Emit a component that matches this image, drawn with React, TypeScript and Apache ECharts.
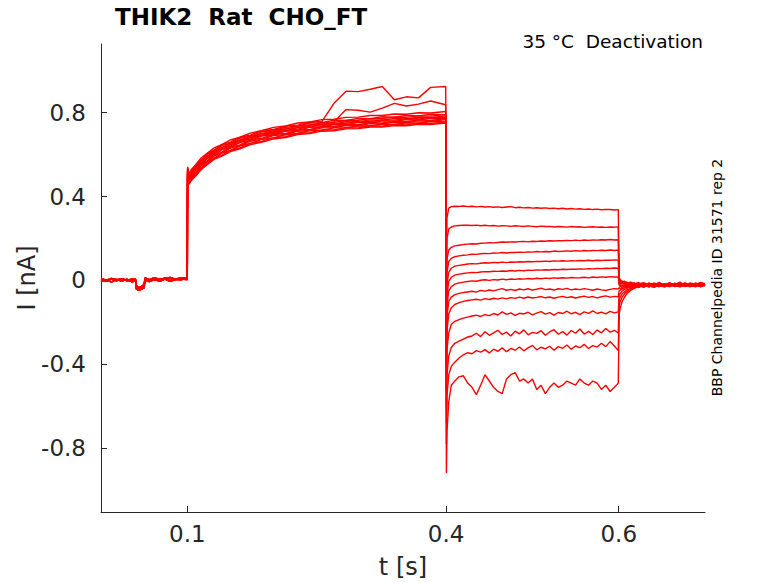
import React, { useEffect, useRef } from 'react';
import * as echarts from 'echarts';

// time grids (s) for the four protocol phases
const T_BASE = [0, 0.006, 0.012, 0.018, 0.024, 0.03, 0.036, 0.04, 0.041, 0.044, 0.047, 0.05, 0.051, 0.056, 0.062, 0.068, 0.074, 0.08, 0.086, 0.092, 0.0995];
const T_ACT = [0.1, 0.1004, 0.102, 0.105, 0.11, 0.116, 0.123, 0.131, 0.14, 0.15, 0.161, 0.173, 0.186, 0.2, 0.214, 0.228, 0.242, 0.256, 0.27, 0.284, 0.298, 0.312, 0.326, 0.34, 0.354, 0.368, 0.382, 0.3995];
const T_DEACT = [0.4003, 0.401, 0.403, 0.406, 0.41, 0.415, 0.42, 0.425, 0.43, 0.435, 0.44, 0.445, 0.45, 0.455, 0.46, 0.465, 0.47, 0.475, 0.48, 0.485, 0.49, 0.495, 0.5, 0.505, 0.51, 0.515, 0.52, 0.525, 0.53, 0.535, 0.54, 0.545, 0.55, 0.555, 0.56, 0.565, 0.57, 0.575, 0.58, 0.585, 0.59, 0.595, 0.5995];
const T_TAIL = [0.6005, 0.602, 0.604, 0.607, 0.61, 0.614, 0.618, 0.623, 0.629, 0.635, 0.641, 0.647, 0.653, 0.659, 0.665, 0.671, 0.677, 0.683, 0.689, 0.695, 0.7];

// holding current before the step (nA)
const BASELINES = [
  [0.004, -0.004, 0.006, -0.002, 0.008, 0.001, -0.005, 0.002, -0.030, -0.040, -0.034, -0.028, 0.006, -0.002, 0.008, 0.002, 0.010, -0.001, 0.007, 0.003, 0.009],
  [-0.006, 0.004, -0.008, 0.005, -0.004, 0.006, -0.007, -0.002, -0.042, -0.048, -0.041, -0.036, 0.002, -0.006, 0.004, -0.005, 0.006, -0.004, 0.003, 0.007, 0.004],
  [0.009, 0.001, 0.010, 0.003, 0.007, -0.002, 0.008, 0.006, -0.025, -0.033, -0.028, -0.020, 0.012, 0.004, 0.013, 0.005, 0.011, 0.014, 0.006, 0.012, 0.010],
];

// activation step, one row per sweep (nA)
const ACTIVATION = [
  [0.006, 0.535, 0.497, 0.518, 0.547, 0.569, 0.601, 0.617, 0.643, 0.655, 0.678, 0.688, 0.709, 0.715, 0.731, 0.736, 0.751, 0.753, 0.764, 0.763, 0.773, 0.772, 0.781, 0.779, 0.787, 0.785, 0.793, 0.791],
  [0.002, 0.512, 0.468, 0.492, 0.512, 0.545, 0.566, 0.593, 0.607, 0.631, 0.642, 0.664, 0.673, 0.691, 0.696, 0.712, 0.715, 0.728, 0.729, 0.739, 0.738, 0.748, 0.746, 0.755, 0.752, 0.761, 0.758, 0.767],
  [0.007, 0.524, 0.489, 0.503, 0.533, 0.555, 0.585, 0.603, 0.628, 0.641, 0.662, 0.674, 0.693, 0.701, 0.716, 0.722, 0.735, 0.738, 0.748, 0.749, 0.758, 0.758, 0.766, 0.765, 0.772, 0.771, 0.778, 0.777],
  [0.003, 0.505, 0.462, 0.484, 0.503, 0.534, 0.556, 0.583, 0.597, 0.621, 0.632, 0.654, 0.663, 0.681, 0.686, 0.702, 0.705, 0.718, 0.718, 0.729, 0.728, 0.738, 0.736, 0.745, 0.742, 0.751, 0.748, 0.757],
  [0.005, 0.528, 0.494, 0.509, 0.540, 0.561, 0.593, 0.609, 0.635, 0.647, 0.670, 0.680, 0.701, 0.707, 0.724, 0.728, 0.743, 0.745, 0.756, 0.815, 0.812, 0.803, 0.822, 0.845, 0.832, 0.841, 0.856, 0.838],
  [0.004, 0.516, 0.476, 0.497, 0.518, 0.549, 0.571, 0.598, 0.612, 0.636, 0.647, 0.669, 0.678, 0.696, 0.701, 0.717, 0.720, 0.733, 0.733, 0.744, 0.743, 0.753, 0.751, 0.760, 0.757, 0.766, 0.763, 0.772],
  [0.008, 0.538, 0.503, 0.522, 0.553, 0.574, 0.606, 0.622, 0.648, 0.660, 0.683, 0.693, 0.714, 0.720, 0.736, 0.741, 0.756, 0.758, 0.845, 0.903, 0.901, 0.912, 0.925, 0.862, 0.876, 0.871, 0.921, 0.925],
  [0.001, 0.498, 0.458, 0.478, 0.499, 0.528, 0.552, 0.577, 0.593, 0.615, 0.628, 0.648, 0.659, 0.675, 0.682, 0.696, 0.701, 0.712, 0.714, 0.723, 0.724, 0.732, 0.732, 0.739, 0.738, 0.745, 0.744, 0.751],
  [0.006, 0.530, 0.492, 0.517, 0.538, 0.569, 0.591, 0.617, 0.633, 0.655, 0.668, 0.688, 0.699, 0.715, 0.722, 0.736, 0.741, 0.752, 0.754, 0.763, 0.764, 0.772, 0.772, 0.779, 0.778, 0.785, 0.784, 0.791],
  [0.002, 0.508, 0.467, 0.482, 0.512, 0.534, 0.565, 0.582, 0.607, 0.620, 0.642, 0.653, 0.673, 0.680, 0.696, 0.701, 0.715, 0.717, 0.728, 0.728, 0.738, 0.737, 0.746, 0.744, 0.752, 0.750, 0.758, 0.756],
  [0.005, 0.522, 0.486, 0.511, 0.530, 0.563, 0.583, 0.611, 0.625, 0.649, 0.660, 0.682, 0.691, 0.709, 0.714, 0.730, 0.733, 0.746, 0.746, 0.757, 0.756, 0.766, 0.764, 0.773, 0.770, 0.779, 0.776, 0.785],
  [0.004, 0.518, 0.483, 0.498, 0.528, 0.549, 0.581, 0.597, 0.623, 0.635, 0.658, 0.668, 0.689, 0.695, 0.712, 0.716, 0.731, 0.732, 0.744, 0.743, 0.754, 0.752, 0.762, 0.759, 0.768, 0.765, 0.774, 0.771],
  [0.009, 0.542, 0.508, 0.531, 0.553, 0.584, 0.606, 0.632, 0.648, 0.670, 0.683, 0.703, 0.714, 0.730, 0.737, 0.751, 0.756, 0.767, 0.769, 0.778, 0.779, 0.787, 0.787, 0.794, 0.793, 0.800, 0.799, 0.806],
];

// deactivation (tail) step, one row per test potential (nA)
const DEACTIVATION = [
  [0.05, 0.30, 0.345, 0.352, 0.354, 0.353, 0.355, 0.352, 0.354, 0.351, 0.353, 0.350, 0.352, 0.349, 0.351, 0.348, 0.350, 0.352, 0.347, 0.349, 0.346, 0.348, 0.345, 0.347, 0.344, 0.346, 0.343, 0.345, 0.342, 0.344, 0.341, 0.343, 0.340, 0.342, 0.339, 0.341, 0.338, 0.340, 0.337, 0.339, 0.338, 0.336, 0.338],
  [-0.05, 0.20, 0.245, 0.255, 0.260, 0.262, 0.264, 0.263, 0.262, 0.264, 0.261, 0.263, 0.260, 0.262, 0.259, 0.261, 0.260, 0.258, 0.261, 0.259, 0.257, 0.260, 0.258, 0.256, 0.259, 0.257, 0.258, 0.255, 0.257, 0.256, 0.254, 0.257, 0.255, 0.256, 0.253, 0.255, 0.256, 0.254, 0.255, 0.253, 0.255, 0.254, 0.255],
  [-0.12, 0.10, 0.145, 0.158, 0.165, 0.168, 0.171, 0.173, 0.175, 0.174, 0.177, 0.178, 0.180, 0.179, 0.181, 0.183, 0.182, 0.184, 0.183, 0.185, 0.186, 0.184, 0.187, 0.186, 0.188, 0.187, 0.189, 0.188, 0.190, 0.189, 0.191, 0.190, 0.192, 0.190, 0.193, 0.191, 0.193, 0.192, 0.194, 0.193, 0.195, 0.193, 0.194],
  [-0.20, 0.04, 0.09, 0.105, 0.113, 0.117, 0.120, 0.122, 0.125, 0.124, 0.127, 0.129, 0.128, 0.131, 0.130, 0.133, 0.131, 0.134, 0.133, 0.135, 0.134, 0.136, 0.135, 0.138, 0.136, 0.138, 0.137, 0.140, 0.138, 0.139, 0.141, 0.139, 0.142, 0.140, 0.143, 0.141, 0.143, 0.142, 0.144, 0.143, 0.145, 0.143, 0.145],
  [-0.27, -0.02, 0.04, 0.058, 0.068, 0.072, 0.075, 0.078, 0.080, 0.079, 0.082, 0.084, 0.083, 0.086, 0.084, 0.087, 0.085, 0.088, 0.087, 0.089, 0.088, 0.090, 0.089, 0.091, 0.090, 0.092, 0.090, 0.093, 0.092, 0.094, 0.092, 0.094, 0.093, 0.095, 0.094, 0.096, 0.094, 0.096, 0.095, 0.097, 0.096, 0.098, 0.097],
  [-0.33, -0.07, -0.005, 0.015, 0.025, 0.030, 0.033, 0.036, 0.038, 0.037, 0.040, 0.042, 0.041, 0.044, 0.043, 0.045, 0.044, 0.047, 0.045, 0.048, 0.046, 0.049, 0.048, 0.050, 0.049, 0.051, 0.050, 0.052, 0.051, 0.053, 0.052, 0.054, 0.053, 0.055, 0.054, 0.056, 0.055, 0.057, 0.056, 0.058, 0.057, 0.059, 0.058],
  [-0.40, -0.12, -0.05, -0.03, -0.018, -0.012, -0.008, -0.005, -0.002, -0.004, 0.001, 0.003, 0.000, 0.004, 0.002, 0.006, 0.003, 0.007, 0.005, 0.008, 0.006, 0.009, 0.007, 0.010, 0.008, 0.011, 0.009, 0.012, 0.010, 0.013, 0.011, 0.014, 0.012, 0.013, 0.015, 0.012, 0.016, 0.014, 0.017, 0.015, 0.018, 0.016, 0.017],
  [-0.46, -0.17, -0.10, -0.08, -0.068, -0.062, -0.058, -0.055, -0.052, -0.056, -0.048, -0.051, -0.046, -0.050, -0.044, -0.039, -0.047, -0.043, -0.048, -0.041, -0.045, -0.040, -0.046, -0.042, -0.037, -0.044, -0.041, -0.046, -0.040, -0.043, -0.038, -0.045, -0.041, -0.044, -0.039, -0.043, -0.047, -0.041, -0.045, -0.048, -0.043, -0.039, -0.041],
  [-0.52, -0.24, -0.16, -0.13, -0.115, -0.106, -0.100, -0.096, -0.093, -0.090, -0.094, -0.087, -0.091, -0.085, -0.089, -0.083, -0.088, -0.082, -0.086, -0.080, -0.085, -0.079, -0.084, -0.081, -0.077, -0.083, -0.079, -0.085, -0.080, -0.076, -0.082, -0.078, -0.084, -0.079, -0.075, -0.081, -0.077, -0.083, -0.078, -0.074, -0.080, -0.076, -0.078],
  [-0.60, -0.33, -0.25, -0.21, -0.195, -0.187, -0.180, -0.175, -0.170, -0.166, -0.172, -0.163, -0.168, -0.158, -0.165, -0.150, -0.162, -0.155, -0.167, -0.157, -0.160, -0.152, -0.164, -0.156, -0.149, -0.161, -0.154, -0.166, -0.153, -0.158, -0.147, -0.160, -0.152, -0.163, -0.150, -0.157, -0.145, -0.158, -0.151, -0.160, -0.148, -0.155, -0.150],
  [-0.68, -0.45, -0.36, -0.32, -0.30, -0.29, -0.28, -0.27, -0.265, -0.252, -0.268, -0.245, -0.262, -0.250, -0.238, -0.258, -0.247, -0.265, -0.242, -0.255, -0.236, -0.260, -0.248, -0.253, -0.240, -0.262, -0.246, -0.235, -0.257, -0.244, -0.261, -0.239, -0.252, -0.232, -0.256, -0.243, -0.258, -0.237, -0.250, -0.229, -0.247, -0.238, -0.251],
  [-0.78, -0.55, -0.45, -0.41, -0.39, -0.37, -0.355, -0.345, -0.350, -0.335, -0.342, -0.330, -0.346, -0.328, -0.338, -0.322, -0.340, -0.325, -0.333, -0.318, -0.336, -0.322, -0.310, -0.331, -0.319, -0.327, -0.314, -0.333, -0.316, -0.324, -0.308, -0.328, -0.313, -0.321, -0.305, -0.325, -0.311, -0.318, -0.300, -0.316, -0.292, -0.313, -0.335],
  [-0.92, -0.72, -0.58, -0.50, -0.48, -0.46, -0.455, -0.49, -0.51, -0.545, -0.50, -0.45, -0.48, -0.51, -0.53, -0.54, -0.47, -0.45, -0.44, -0.48, -0.47, -0.49, -0.47, -0.52, -0.50, -0.54, -0.51, -0.49, -0.51, -0.50, -0.48, -0.49, -0.50, -0.47, -0.49, -0.50, -0.48, -0.49, -0.52, -0.50, -0.53, -0.51, -0.49],
];

// return to holding potential (nA)
const TAILS = [
  [0.012, 0.002, -0.006, -0.004, -0.012, -0.008, -0.018, -0.010, -0.024, -0.013, -0.021, -0.009, -0.025, -0.014, -0.020, -0.008, -0.023, -0.012, -0.019, -0.010, -0.016],
  [0.006, -0.004, -0.010, -0.016, -0.009, -0.022, -0.013, -0.026, -0.015, -0.028, -0.012, -0.024, -0.016, -0.030, -0.013, -0.025, -0.017, -0.027, -0.012, -0.024, -0.018],
  [0.002, -0.008, -0.003, -0.014, -0.020, -0.011, -0.024, -0.017, -0.011, -0.022, -0.029, -0.016, -0.021, -0.011, -0.026, -0.018, -0.013, -0.028, -0.019, -0.014, -0.021],
  [-0.002, -0.012, -0.018, -0.009, -0.016, -0.026, -0.015, -0.021, -0.030, -0.017, -0.023, -0.012, -0.027, -0.020, -0.015, -0.029, -0.022, -0.016, -0.025, -0.019, -0.023],
  [-0.008, -0.016, -0.011, -0.022, -0.027, -0.018, -0.012, -0.025, -0.019, -0.031, -0.016, -0.026, -0.020, -0.013, -0.028, -0.021, -0.030, -0.018, -0.024, -0.029, -0.020],
  [-0.014, -0.022, -0.028, -0.019, -0.025, -0.014, -0.027, -0.020, -0.032, -0.015, -0.024, -0.030, -0.017, -0.026, -0.022, -0.014, -0.027, -0.021, -0.031, -0.016, -0.024],
  [-0.022, -0.030, -0.024, -0.033, -0.021, -0.029, -0.017, -0.028, -0.022, -0.013, -0.027, -0.020, -0.031, -0.023, -0.016, -0.025, -0.019, -0.029, -0.015, -0.026, -0.022],
  [-0.034, -0.040, -0.033, -0.027, -0.034, -0.022, -0.030, -0.016, -0.027, -0.021, -0.032, -0.018, -0.024, -0.029, -0.019, -0.027, -0.012, -0.024, -0.020, -0.028, -0.017],
  [-0.050, -0.046, -0.041, -0.035, -0.028, -0.034, -0.021, -0.029, -0.018, -0.026, -0.033, -0.022, -0.028, -0.017, -0.025, -0.031, -0.020, -0.027, -0.023, -0.015, -0.025],
  [-0.072, -0.061, -0.052, -0.043, -0.037, -0.029, -0.035, -0.024, -0.031, -0.020, -0.027, -0.015, -0.026, -0.022, -0.030, -0.018, -0.028, -0.021, -0.016, -0.027, -0.019],
  [-0.092, -0.078, -0.064, -0.054, -0.044, -0.038, -0.028, -0.034, -0.023, -0.029, -0.017, -0.026, -0.031, -0.020, -0.024, -0.014, -0.025, -0.030, -0.021, -0.019, -0.026],
  [-0.118, -0.098, -0.080, -0.063, -0.052, -0.041, -0.033, -0.026, -0.032, -0.021, -0.028, -0.019, -0.027, -0.015, -0.029, -0.022, -0.017, -0.026, -0.020, -0.031, -0.023],
  [-0.160, -0.128, -0.100, -0.078, -0.061, -0.047, -0.038, -0.030, -0.024, -0.031, -0.020, -0.027, -0.016, -0.025, -0.021, -0.029, -0.018, -0.023, -0.028, -0.017, -0.024],
];

const X_TICKS = [0.1, 0.4, 0.6];
const Y_TICKS = [-0.8, -0.4, 0, 0.4, 0.8];

const TITLE = 'THIK2  Rat  CHO_FT';
const SUBTITLE = '35 °C  Deactivation';
const SIDE_NOTE = 'BBP Channelpedia ID 31571 rep 2';

const FONT = '"DejaVu Sans", sans-serif';
const INK = '#262626';

const App: React.FC = () => {
  const chartRef = useRef<HTMLDivElement>(null);

  useEffect(() => {
    if (!chartRef.current) return;
    const chart = echarts.init(chartRef.current, undefined, { renderer: 'svg' });

    // one continuous sweep per row: baseline -> activation -> deactivation -> tail
    const series = ACTIVATION.map((act, i) => {
      const base = BASELINES[i % BASELINES.length];
      const data: [number, number][] = [
        ...T_BASE.map((t, k) => [t, base[k]] as [number, number]),
        ...T_ACT.map((t, k) => [t, act[k]] as [number, number]),
        ...T_DEACT.map((t, k) => [t, DEACTIVATION[i][k]] as [number, number]),
        ...T_TAIL.map((t, k) => [t, TAILS[i][k]] as [number, number]),
      ];
      return {
        type: 'line' as const,
        data,
        showSymbol: false,
        silent: true,
        lineStyle: { color: '#ff0000', width: 1.4 },
      };
    });

    const option: any = {
      animation: false,
      backgroundColor: '#ffffff',
      textStyle: { fontFamily: FONT },
      grid: {
        left: 101,
        top: 44,
        width: 604,
        height: 468,
        containLabel: false,
        outerBoundsMode: 'none',
      },
      xAxis: {
        type: 'value',
        min: 0,
        max: 0.7,
        name: 't [s]',
        nameLocation: 'middle',
        nameGap: 43,
        nameMoveOverlap: false,
        nameTextStyle: { color: INK, fontSize: 24, fontFamily: FONT },
        axisLine: { show: true, onZero: false, lineStyle: { color: INK, width: 1 } },
        axisTick: { show: true, inside: true, length: 6, customValues: X_TICKS, lineStyle: { color: INK } },
        axisLabel: { customValues: X_TICKS, color: INK, fontSize: 23, margin: 10, fontFamily: FONT },
        splitLine: { show: false },
      },
      yAxis: {
        type: 'value',
        min: -1.105,
        max: 1.128,
        name: 'I [nA]',
        nameLocation: 'middle',
        nameGap: 62,
        nameMoveOverlap: false,
        nameTextStyle: { color: INK, fontSize: 24, fontFamily: FONT },
        axisLine: { show: true, onZero: false, lineStyle: { color: INK, width: 1 } },
        axisTick: { show: true, inside: true, length: 6, customValues: Y_TICKS, lineStyle: { color: INK } },
        axisLabel: {
          customValues: Y_TICKS,
          color: INK,
          fontSize: 23,
          margin: 15,
          fontFamily: FONT,
          formatter: (v: number) => String(v),
        },
        splitLine: { show: false },
      },
      graphic: [
        {
          type: 'text',
          left: 115,
          top: 5,
          style: { text: TITLE, font: `bold 23px ${FONT}`, fill: '#000000' },
        },
        {
          type: 'text',
          x: 703,
          y: 41,
          style: { text: SUBTITLE, font: `18.5px ${FONT}`, fill: '#000000', align: 'right', verticalAlign: 'middle' },
        },
        {
          type: 'text',
          x: 716.5,
          y: 277.5,
          rotation: Math.PI / 2,
          style: { text: SIDE_NOTE, font: `14px ${FONT}`, fill: '#000000', align: 'center', verticalAlign: 'middle' },
        },
      ],
      series,
    };

    chart.setOption(option);
    return () => {
      chart.dispose();
    };
  }, []);

  return (
    <div
      ref={chartRef}
      style={{ position: 'fixed', left: 0, top: 0, width: 778, height: 583, background: '#fff' }}
    />
  );
};

export default App;
